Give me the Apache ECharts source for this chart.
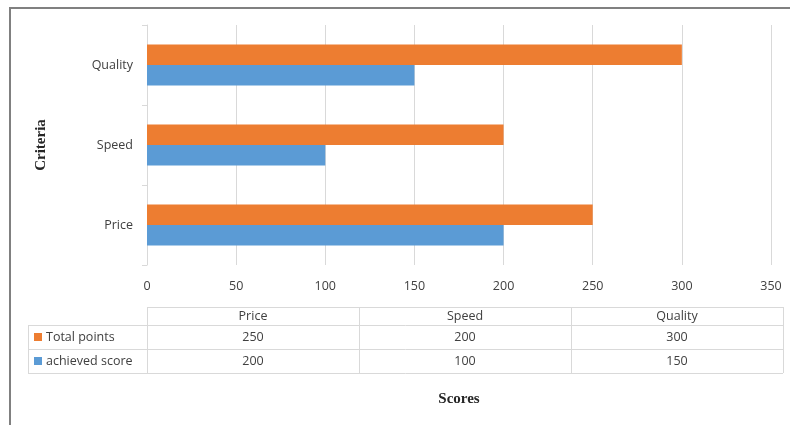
<!DOCTYPE html>
<html>
<head>
<meta charset="utf-8">
<script src="https://cdn.jsdelivr.net/npm/echarts@6/dist/echarts.min.js"></script>
<style>
html,body{margin:0;padding:0;background:#fff;}
#chart{width:790px;height:425px;}
</style>
</head>
<body>
<div id="chart"></div>
<script>
// Data
var categories = ['Price', 'Speed', 'Quality'];
var seriesNames = ['Total points', 'achieved score'];
var totalPoints = [250, 200, 300];
var achievedScore = [200, 100, 150];
var xTicks = [0, 50, 100, 150, 200, 250, 300, 350];
var xTitle = 'Scores';
var yTitle = 'Criteria';

var ORANGE = '#ED7D31', BLUE = '#5B9BD5';
var LABEL_FONT = '"Open Sans", sans-serif';
var FS = 12.5;
var GRID = {left: 147, right: 19, top: 25, bottom: 160};
var W = 790, H = 425;
var plotW = W - GRID.left - GRID.right;

var chart = echarts.init(document.getElementById('chart'), null, {renderer: 'canvas'});

// Data table built from the arrays
var gridColor = '#D9D9D9';
var tblTop = 307, rowH = [18, 24, 24];
var rowY = [tblTop, tblTop + rowH[0], tblTop + rowH[0] + rowH[1], tblTop + rowH[0] + rowH[1] + rowH[2]];
var tblLeft = 28, tblRight = GRID.left + plotW + 12;
var colW = (tblRight - GRID.left) / categories.length;
var graphics = [];
function hline(x1, x2, y) {
  graphics.push({type: 'line', silent: true, shape: {x1: x1, y1: y + 0.5, x2: x2, y2: y + 0.5}, style: {stroke: gridColor, lineWidth: 1}});
}
function vline(x, y1, y2) {
  graphics.push({type: 'line', silent: true, shape: {x1: x + 0.5, y1: y1, x2: x + 0.5, y2: y2}, style: {stroke: gridColor, lineWidth: 1}});
}
hline(GRID.left, tblRight, rowY[0]);
hline(tblLeft, tblRight, rowY[1]);
hline(tblLeft, tblRight, rowY[2]);
hline(tblLeft, tblRight, rowY[3]);
vline(tblLeft, rowY[1], rowY[3]);
for (var c = 0; c <= categories.length; c++) {
  vline(Math.round(GRID.left + c * colW), rowY[0], rowY[3]);
}
function txt(s, x, y, align) {
  graphics.push({type: 'text', silent: true, x: x, y: y,
    style: {text: s, align: align || 'center', verticalAlign: 'middle', textAlign: align || 'center', textVerticalAlign: 'middle',
      font: FS + 'px ' + LABEL_FONT, fill: '#404040'}});
}
categories.forEach(function (cat, i) {
  txt(cat, GRID.left + (i + 0.5) * colW, (rowY[0] + rowY[1]) / 2);
});
var rows = [totalPoints, achievedScore];
var rowColors = [ORANGE, BLUE];
rows.forEach(function (vals, r) {
  var cy = (rowY[r + 1] + rowY[r + 2]) / 2;
  graphics.push({type: 'rect', silent: true, shape: {x: 34, y: Math.round(cy) - 4, width: 8, height: 8}, style: {fill: rowColors[r]}});
  txt(seriesNames[r], 46, cy, 'left');
  vals.forEach(function (v, i) {
    txt(String(v), GRID.left + (i + 0.5) * colW, cy);
  });
});
// Outer frame (top and left)
graphics.push({type: 'line', silent: true, shape: {x1: 9, y1: 8, x2: W, y2: 8}, style: {stroke: '#808080', lineWidth: 2}});
graphics.push({type: 'line', silent: true, shape: {x1: 10, y1: 7, x2: 10, y2: H}, style: {stroke: '#808080', lineWidth: 2}});

var option = {
  backgroundColor: '#fff',
  animation: false,
  grid: {left: GRID.left, right: GRID.right, top: GRID.top, bottom: GRID.bottom, containLabel: false},
  xAxis: {
    type: 'value',
    min: xTicks[0], max: xTicks[xTicks.length - 1], interval: xTicks[1] - xTicks[0],
    axisLine: {show: false}, axisTick: {show: false},
    splitLine: {show: true, lineStyle: {color: gridColor, width: 1}},
    axisLabel: {color: '#404040', fontSize: FS, fontFamily: LABEL_FONT, margin: 15},
    name: xTitle, nameLocation: 'middle', nameGap: 127,
    nameTextStyle: {fontFamily: '"Liberation Serif", serif', fontWeight: 'bold', fontSize: 15, color: '#262626'}
  },
  yAxis: {
    type: 'category', data: categories,
    axisLine: {show: true, lineStyle: {color: gridColor, width: 1}},
    axisTick: {show: true, length: 5, lineStyle: {color: gridColor}},
    axisLabel: {color: '#404040', fontSize: FS, fontFamily: LABEL_FONT, margin: 14},
    name: yTitle, nameLocation: 'middle', nameGap: 98, nameRotate: 90,
    nameTextStyle: {fontFamily: '"Liberation Serif", serif', fontWeight: 'bold', fontSize: 15, color: '#262626'}
  },
  series: [
    {name: seriesNames[0], type: 'bar', data: totalPoints, itemStyle: {color: ORANGE}, barCategoryGap: '49%', barGap: '0%'},
    {name: seriesNames[1], type: 'bar', data: achievedScore, itemStyle: {color: BLUE}, barCategoryGap: '49%', barGap: '0%'}
  ],
  graphic: graphics
};
chart.setOption(option);
</script>
</body>
</html>
